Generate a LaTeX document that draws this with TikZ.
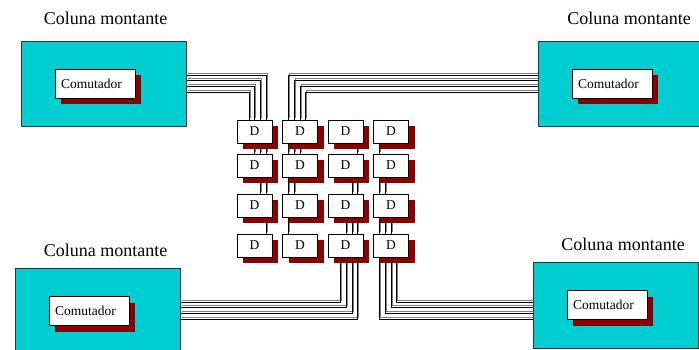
\documentclass[tikz,border=0pt]{standalone}
\usepackage{fontspec}
\setmainfont{Liberation Serif}
\usetikzlibrary{positioning, shadows, backgrounds}

\definecolor{riserfill}{RGB}{0,206,209}
\definecolor{shadowred}{RGB}{139,0,0}
\definecolor{wiregray}{RGB}{128,128,128}

\tikzset{
  riser/.style={draw=black!80, line width=0.8pt, fill=riserfill,
    minimum width=165pt, minimum height=85pt, inner sep=0pt},
  risertitle/.style={inner sep=0pt, font=\fontsize{18}{20}\selectfont},
  redshadow/.style={drop shadow={shadow xshift=6pt, shadow yshift=-6pt,
    fill=shadowred, opacity=1}},
  switchbox/.style={draw, line width=0.8pt, fill=white, redshadow,
    text width=68pt, inner xsep=6pt, inner ysep=0pt, minimum height=29pt,
    align=left, font=\fontsize{13.5}{15}\selectfont},
  dbox/.style={draw, line width=0.8pt, fill=white, redshadow,
    minimum width=35pt, minimum height=23pt, inner sep=0pt,
    font=\fontsize{13.5}{15}\selectfont},
  wire/.style={line width=0.9pt,
    preaction={draw=wiregray, line width=0.9pt,
      transform canvas={xshift=1.2pt, yshift=1.2pt}}}
}

\begin{document}
\begin{tikzpicture}[x=1pt, y=-1pt]
  \useasboundingbox (0,0) rectangle (699,350);
  %--- risers (coluna montante) ---
  \node[riser] (cnw) at (103.5,83.5) {};
  \node[riser, minimum width=161pt] (cne) at (618.5,83.5) {};
  \node[riser] (csw) at (97.5,310.5) {};
  \node[riser, minimum height=86pt] (cse) at (615.5,305) {};
  \node[risertitle, anchor=base] (tnw) at (105.5,25) {Coluna montante};
  \node[risertitle, anchor=base] (tne) at (629,25) {Coluna montante};
  \node[risertitle, anchor=base] (tsw) at (105.5,256.5) {Coluna montante};
  \node[risertitle, anchor=base] (tse) at (623,250) {Coluna montante};
  % switches
  \node[switchbox] (snw) at (95,83.5) {Comutador};
  \node[switchbox] (sne) at (612,83.5) {Comutador};
  \node[switchbox] (ssw) at (89,311) {Comutador};
  \node[switchbox] (sse) at (607,305) {Comutador};
  %--- D grid ---
  \foreach \c/\x in {1/254.5, 2/300, 3/345.5, 4/391}
    \foreach \r/\y in {1/131.5, 2/165.5, 3/205.5, 4/245.5}
      \node[dbox] (d\r\c) at (\x,\y) {D};
  %--- cables ---
  \begin{scope}[on background layer]
    \foreach \dy/\dx in {8.5/11.5, 3.5/5.5, -2.5/-0.5, -8.5/-5.5}
      \draw[wire] ([yshift=\dy pt]cnw.east) -| ([xshift=\dx pt]d11.north);
    \foreach \dy/\dx in {8.5/-12, 3.5/-6, -2.5/0, -8.5/5}
      \draw[wire] ([yshift=\dy pt]cne.west) -| ([xshift=\dx pt]d12.north);
    \foreach \dy/\dx in {8.5/-5.5, 3.5/0.5, -2.5/6.5, -8.5/11.5}
      \draw[wire] ([yshift=\dy pt]csw.east) -| ([xshift=\dx pt]d43.south);
    \foreach \dy/\dx in {3/5, -2/0, -8/-6, -14/-12}
      \draw[wire] ([yshift=\dy pt]cse.west) -| ([xshift=\dx pt]d44.south);
    % between rows
    \foreach \a/\b/\dx in {11/21/-0.5, 11/21/5.5, 11/21/11.5, 21/31/5.5, 21/31/11.5, 31/41/11.5,
        12/22/-12, 12/22/-6, 12/22/0, 22/32/-12, 22/32/-6, 32/42/-12,
        33/43/0.5, 33/43/6.5, 33/43/11.5, 23/33/6.5, 23/33/11.5, 13/23/11.5,
        34/44/-12, 34/44/-6, 34/44/0, 24/34/-12, 24/34/-6, 14/24/-12}
      \draw[wire] ([xshift=\dx pt]d\a.south) -- ([xshift=\dx pt]d\b.north);
  \end{scope}
\end{tikzpicture}
\end{document}
